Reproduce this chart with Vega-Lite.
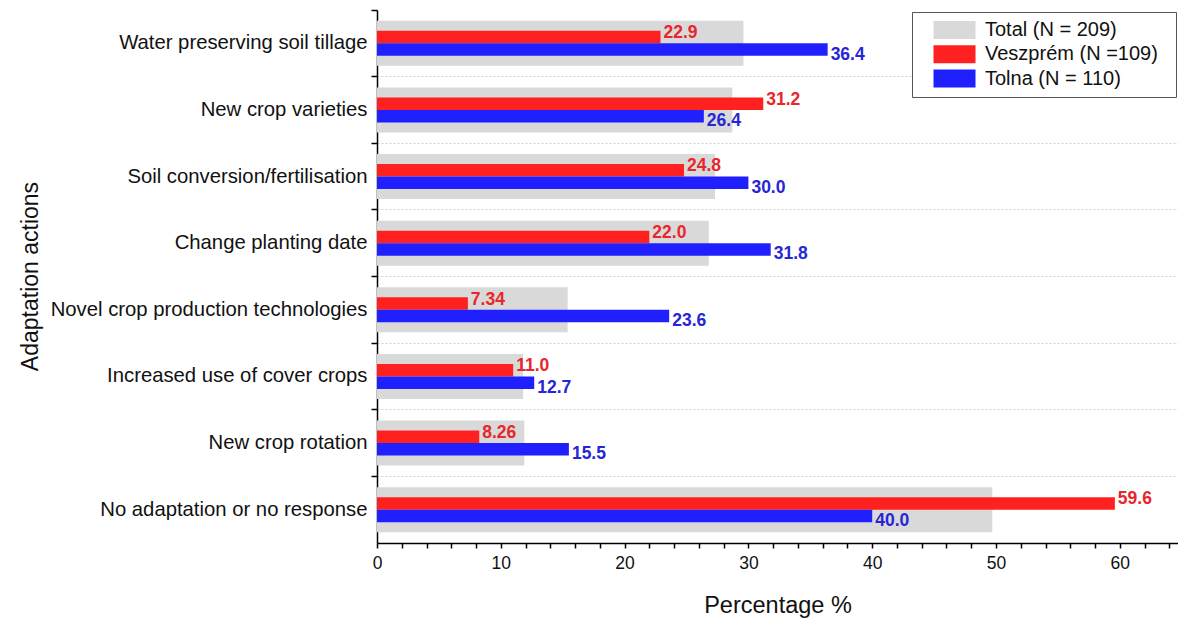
{
  "$schema": "https://vega.github.io/schema/vega-lite/v6.json",
  "autosize": "none",
  "width": 801,
  "height": 533,
  "padding": {"left": 377, "top": 10, "right": 0, "bottom": 78},
  "background": "white",
  "config": {
    "font": "Liberation Sans",
    "view": {"stroke": null},
    "axis": {"labelFont": "Liberation Sans", "titleFont": "Liberation Sans", "titleFontWeight": "normal", "domainColor": "#000", "tickColor": "#000", "labelColor": "#111", "titleColor": "#111"}
  },
  "data": {
    "values": [
      {"action": "Water preserving soil tillage", "series": "Total", "value": 29.6},
      {"action": "Water preserving soil tillage", "series": "Veszprém", "value": 22.9},
      {"action": "Water preserving soil tillage", "series": "Tolna", "value": 36.4},
      {"action": "New crop varieties", "series": "Total", "value": 28.7},
      {"action": "New crop varieties", "series": "Veszprém", "value": 31.2},
      {"action": "New crop varieties", "series": "Tolna", "value": 26.4},
      {"action": "Soil conversion/fertilisation", "series": "Total", "value": 27.3},
      {"action": "Soil conversion/fertilisation", "series": "Veszprém", "value": 24.8},
      {"action": "Soil conversion/fertilisation", "series": "Tolna", "value": 30.0},
      {"action": "Change planting date", "series": "Total", "value": 26.8},
      {"action": "Change planting date", "series": "Veszprém", "value": 22.0},
      {"action": "Change planting date", "series": "Tolna", "value": 31.8},
      {"action": "Novel crop production technologies", "series": "Total", "value": 15.4},
      {"action": "Novel crop production technologies", "series": "Veszprém", "value": 7.34},
      {"action": "Novel crop production technologies", "series": "Tolna", "value": 23.6},
      {"action": "Increased use of cover crops", "series": "Total", "value": 11.8},
      {"action": "Increased use of cover crops", "series": "Veszprém", "value": 11.0},
      {"action": "Increased use of cover crops", "series": "Tolna", "value": 12.7},
      {"action": "New crop rotation", "series": "Total", "value": 11.9},
      {"action": "New crop rotation", "series": "Veszprém", "value": 8.26},
      {"action": "New crop rotation", "series": "Tolna", "value": 15.5},
      {"action": "No adaptation or no response", "series": "Total", "value": 49.7},
      {"action": "No adaptation or no response", "series": "Veszprém", "value": 59.6},
      {"action": "No adaptation or no response", "series": "Tolna", "value": 40.0}
    ]
  },
  "encoding": {
    "y": {
      "field": "action",
      "type": "nominal",
      "sort": null,
      "scale": {"paddingInner": 0, "paddingOuter": 0}
    },
    "x": {
      "field": "value",
      "type": "quantitative",
      "scale": {"domain": [0, 64.7], "nice": false, "zero": true},
      "axis": {
        "title": "Percentage %",
        "titleFontSize": 23.5,
        "titleY": 62,
        "titleBaseline": "middle",
        "labelFontSize": 17.5,
        "labelPadding": 6,
        "values": [0,2,4,6,8,10,12,14,16,18,20,22,24,26,28,30,32,34,36,38,40,42,44,46,48,50,52,54,56,58,60,62,64],
        "labelExpr": "datum.value % 10 === 0 ? datum.label : ''",
        "tickSize": 5,
        "tickWidth": 1.5,
        "domainWidth": 1.5,
        "grid": false,
        "labelFlush": false,
        "labelOverlap": false
      }
    }
  },
  "layer": [
    {
      "transform": [{"filter": "datum.series === 'Total'"}],
      "mark": {"type": "bar", "size": 45},
      "encoding": {
        "y": {
          "field": "action", "type": "nominal", "sort": null,
          "axis": {
            "title": "Adaptation actions",
            "titleFontSize": 23,
            "titleX": -347,
            "titleY": 266,
            "titleAngle": -90,
            "titleAlign": "center",
            "titleBaseline": "middle",
            "labelFontSize": 20.3,
            "labelPadding": 10,
            "ticks": false,
            "grid": false,
            "domain": true,
            "domainWidth": 1.5,
            "labelLimit": 400
          }
        },
        "color": {
          "field": "series",
          "type": "nominal",
          "scale": {"domain": ["Total", "Veszprém", "Tolna"], "range": ["#d9d9d9", "#ff2020", "#2020ff"]},
          "legend": {
            "title": ".",
            "titleOrient": "right",
            "titleColor": "rgba(0,0,0,0)",
            "titleFontSize": 2,
            "titlePadding": 9,
            "orient": "none",
            "legendX": 535,
            "legendY": 2,
            "direction": "vertical",
            "labelFontSize": 20,
            "labelColor": "#111",
            "labelExpr": "datum.label === 'Total' ? 'Total (N = 209)' : datum.label === 'Veszprém' ? 'Veszprém (N =109)' : 'Tolna (N = 110)'",
            "symbolType": "M0.389,-1H5.056V1H0.389Z",
            "symbolSize": 324,
            "symbolStrokeWidth": 0,
            "symbolOpacity": 1,
            "rowPadding": 4.3,
            "labelOffset": 45,
            "padding": 8,
            "strokeColor": "#555",
            "fillColor": "white",
            "labelLimit": 300
          }
        }
      }
    },
    {
      "transform": [{"filter": "datum.series !== 'Total'"}],
      "mark": {"type": "bar"},
      "encoding": {
        "yOffset": {
          "field": "series", "type": "nominal",
          "scale": {"domain": ["padA", "Veszprém", "Tolna", "padB"], "paddingInner": 0, "paddingOuter": 0.67}
        },
        "color": {"field": "series", "type": "nominal"}
      }
    },
    {
      "transform": [{"filter": "datum.series === 'Veszprém'"}],
      "mark": {"type": "text", "align": "left", "baseline": "middle", "dx": 3, "dy": -4, "fontSize": 17.5, "fontWeight": "bold", "font": "Liberation Sans", "color": "#e8262b"},
      "encoding": {
        "yOffset": {
          "field": "series", "type": "nominal",
          "scale": {"domain": ["padA", "Veszprém", "Tolna", "padB"], "paddingInner": 0, "paddingOuter": 0.67}
        },
        "text": {"field": "value", "type": "quantitative", "format": ".3r"}
      }
    },
    {
      "transform": [{"filter": "datum.series === 'Tolna'"}],
      "mark": {"type": "text", "align": "left", "baseline": "middle", "dx": 3, "dy": 5, "fontSize": 17.5, "fontWeight": "bold", "font": "Liberation Sans", "color": "#2626d4"},
      "encoding": {
        "yOffset": {
          "field": "series", "type": "nominal",
          "scale": {"domain": ["padA", "Veszprém", "Tolna", "padB"], "paddingInner": 0, "paddingOuter": 0.67}
        },
        "text": {"field": "value", "type": "quantitative", "format": ".3r"}
      }
    },
    {
      "mark": {"type": "rule", "opacity": 0},
      "encoding": {
        "y": {
          "field": "action", "type": "nominal", "sort": null,
          "axis": {
            "orient": "left",
            "title": null,
            "labels": false,
            "domain": false,
            "ticks": true,
            "tickSize": 6,
            "tickWidth": 1.5,
            "bandPosition": 0,
            "grid": true,
            "gridColor": "#d0d0d0",
            "gridDash": [2, 2],
            "gridWidth": 1,
            "gridOpacity": {"condition": {"test": "datum.value === 'Water preserving soil tillage'", "value": 0}, "value": 1}
          }
        }
      }
    }
  ],
  "resolve": {"axis": {"y": "independent"}}
}
